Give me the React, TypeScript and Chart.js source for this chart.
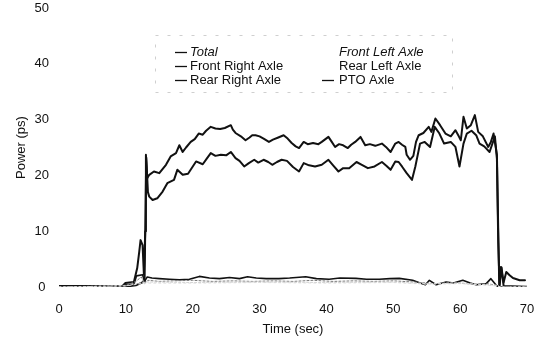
import React, { useEffect, useRef } from "react";
import { Chart, registerables } from "chart.js";

Chart.register(...registerables);

// ---- data (time in sec, power in ps) ----
const totalPower: [number, number][] = [
  [0, 0.2], [5, 0.2], [9.5, 0.2], [9.9, 0.7], [11.2, 0.9], [11.7, 3.4], [12.0, 6.3], [12.2, 8.4],
  [12.5, 7.5], [12.7, 2.2], [12.9, 10], [13.0, 23.7], [13.2, 19.5], [13.5, 20.1], [14.2, 20.7],
  [15.0, 20.4], [16.0, 21.9], [16.7, 23.4], [17.5, 24.0], [18.0, 25.4], [18.5, 24.2], [19.0, 25.0],
  [19.7, 26.0], [20.3, 26.5], [20.9, 27.5], [21.5, 27.3], [22.0, 28.0], [22.7, 28.7], [23.4, 28.4],
  [24.1, 28.3], [24.8, 28.5], [25.7, 29.0], [26.0, 28.2], [26.4, 27.6], [27.2, 27.0], [27.9, 26.3],
  [28.5, 26.8], [28.9, 27.2], [29.4, 27.2], [30.0, 27.0], [30.6, 26.6], [31.4, 26.0], [32.0, 26.4],
  [32.8, 26.8], [33.6, 27.2], [34.2, 26.6], [34.8, 25.8], [35.4, 25.2], [35.9, 24.9], [36.6, 26.0],
  [37.2, 25.6], [38.0, 25.8], [38.8, 25.6], [39.3, 26.0], [40.3, 26.9], [40.8, 26.0], [41.3, 25.1],
  [41.9, 25.6], [42.5, 25.4], [43.2, 24.9], [43.7, 25.5], [44.3, 26.0], [45.1, 26.9], [45.8, 25.4],
  [46.5, 25.6], [47.3, 25.3], [48.3, 25.7], [48.9, 25.1], [49.6, 24.2], [50.3, 25.7], [50.8, 26.0],
  [51.3, 25.5], [51.8, 25.1], [52.0, 23.7], [52.5, 22.8], [53.0, 23.5], [53.4, 26.0], [53.8, 27.2],
  [54.5, 27.6], [55.3, 28.7], [55.7, 27.8], [56.3, 30.2], [57.0, 29.0], [57.8, 27.5], [58.6, 27.0],
  [59.3, 28.1], [59.8, 27.0], [60.1, 26.3], [60.5, 30.5], [61.0, 28.4], [61.6, 29.0], [62.2, 30.8],
  [62.7, 27.8], [63.4, 27.0], [64.2, 25.1], [64.6, 26.0], [65.0, 27.5], [65.5, 23.7], [65.7, 10],
  [65.85, 0.3], [66.1, 3.6], [66.5, 0.8], [66.9, 2.7], [67.4, 2.1], [67.9, 1.6], [68.9, 1.2], [69.7, 1.2],
];

const ptoAxle: [number, number][] = [
  [0, 0], [9.5, 0], [11.5, 0.3], [12.8, 1], [12.95, 15], [13.05, 23.2], [13.3, 17], [13.5, 16.2],
  [14.0, 15.6], [14.7, 15.9], [15.5, 17.1], [16.2, 18.6], [17.2, 19.2], [17.7, 21.0], [18.5, 20.1],
  [19.3, 20.3], [20.5, 22.5], [21.5, 22.0], [22.1, 23.0], [22.7, 24.0], [23.4, 23.5], [24.2, 23.7],
  [25.0, 23.6], [25.7, 24.2], [26.4, 23.1], [27.0, 22.6], [27.7, 21.6], [28.4, 22.2], [29.2, 22.8],
  [29.8, 22.3], [30.6, 22.8], [31.3, 22.4], [31.9, 21.9], [32.6, 22.4], [33.3, 22.8], [34.1, 22.6],
  [35.0, 21.5], [35.9, 20.7], [36.6, 22.2], [37.4, 21.8], [38.3, 21.6], [39.3, 21.9], [40.3, 22.8],
  [41.0, 21.8], [41.8, 20.7], [42.5, 21.3], [43.4, 21.3], [44.5, 22.4], [45.3, 21.9], [46.2, 21.3],
  [47.2, 21.6], [48.3, 22.4], [49.0, 21.7], [49.6, 21.0], [50.3, 22.5], [50.8, 22.4], [51.3, 21.6],
  [52.0, 20.4], [52.8, 19.2], [53.3, 21.6], [54.0, 25.7], [54.7, 26.0], [55.5, 25.1], [56.2, 28.7],
  [56.9, 27.5], [57.6, 25.7], [58.6, 26.0], [59.3, 25.1], [59.9, 21.6], [60.5, 25.7], [61.0, 27.5],
  [61.7, 28.0], [62.4, 27.2], [62.9, 25.7], [63.6, 25.2], [64.4, 24.2], [65.2, 27.0], [65.5, 23.0],
  [65.7, 8], [65.9, 0.2], [66.2, 3.5], [66.5, 0.2], [70, 0.05],
];

const frontRightAxle: [number, number][] = [
  [0, 0.1], [9.5, 0.1], [10, 0.4], [11.2, 0.5], [11.6, 2.0], [12.5, 2.2], [12.8, 1.0], [13.2, 1.8],
  [13.9, 1.6], [15, 1.5], [16.5, 1.4], [18, 1.3], [19.5, 1.4], [21, 1.9], [22.5, 1.6], [24, 1.5],
  [25.5, 1.7], [27, 1.5], [28.2, 1.85], [29.5, 1.6], [31, 1.5], [32.9, 1.5], [34.5, 1.6], [36.9, 1.85],
  [38.5, 1.5], [40.4, 1.4], [42, 1.6], [44.4, 1.55], [46, 1.4], [47.9, 1.4], [49.5, 1.5], [50.9, 1.55],
  [52.9, 1.2], [54, 0.7], [54.8, 0.4], [55.4, 1.2], [56.4, 0.4], [57.9, 0.9], [59, 0.7], [60.4, 1.2],
  [61.5, 0.7], [62.4, 0.4], [63.9, 0.6], [64.6, 1.5], [65.4, 0.3], [65.8, 0], [70, 0],
];

const rearRightAxle: [number, number][] = [
  [0, 0], [10, 0.3], [11.5, 1.0], [12.3, 1.8], [12.8, 0.6], [13.3, 1.2], [15, 1.0], [17, 1.1],
  [20, 1.2], [23, 1.0], [26, 1.1], [29, 1.0], [32, 1.1], [35, 1.0], [38, 1.2], [41, 1.0], [44, 1.1],
  [47, 1.0], [50, 1.1], [53, 0.9], [56, 0.6], [59, 0.8], [62, 0.5], [64, 0.6], [65.5, 0.3], [66, 0], [70, 0],
];

const frontLeftAxle: [number, number][] = [
  [0, 0], [10, 0.2], [13, 0.9], [20, 0.8], [30, 0.9], [40, 0.8], [50, 0.9], [55, 0.6], [60, 0.7], [65.5, 0.3], [66, 0], [70, 0],
];

const rearLeftAxle: [number, number][] = [
  [0, 0], [10, 0.2], [13, 0.7], [20, 0.7], [30, 0.8], [40, 0.7], [50, 0.8], [55, 0.5], [60, 0.6], [65.5, 0.2], [66, 0], [70, 0],
];

const seriesLabels = ["Total", "Front Left Axle", "Front Right Axle", "Rear Left Axle", "Rear Right Axle", "PTO Axle"];
const xTickValues = [0, 10, 20, 30, 40, 50, 60, 70];
const yTickValues = [0, 10, 20, 30, 40, 50];
const xTitle = "Time (sec)";
const yTitle = "Power (ps)";

// legend layout: [label index, column, row, italic, has marker]
const legendLayout: [number, number, number, boolean, boolean][] = [
  [0, 0, 0, true, true],
  [2, 0, 1, false, true],
  [4, 0, 2, false, true],
  [1, 1, 0, true, false],
  [3, 1, 1, false, false],
  [5, 1, 2, false, true],
];

const FONT = '"Liberation Sans", Arial, sans-serif';

const legendPlugin = {
  id: "scanLegend",
  afterDraw(chart: any) {
    const ctx = chart.ctx as CanvasRenderingContext2D;
    ctx.save();
    ctx.strokeStyle = "#cfcfcf";
    ctx.lineWidth = 1;
    ctx.setLineDash([3, 9]);
    ctx.strokeRect(155.5, 35.5, 297, 57);
    ctx.setLineDash([]);
    const rowY = [52, 66, 80];
    ctx.fillStyle = "#111";
    ctx.strokeStyle = "#111";
    ctx.textBaseline = "middle";
    ctx.textAlign = "left";
    legendLayout.forEach(([idx, col, row, italic, marker]) => {
      const y = rowY[row];
      ctx.font = `${italic ? "italic " : ""}13px ${FONT}`;
      const textX = col === 0 ? 190 : 339;
      if (marker) {
        const x0 = col === 0 ? 175 : 322;
        ctx.lineWidth = 1.3;
        ctx.beginPath();
        ctx.moveTo(x0, y + 0.5);
        ctx.lineTo(x0 + 12, y + 0.5);
        ctx.stroke();
      }
      ctx.fillText(seriesLabels[idx], textX, y);
    });
    ctx.restore();
  },
};

export default function App() {
  const canvasRef = useRef<HTMLCanvasElement | null>(null);

  useEffect(() => {
    if (!canvasRef.current) return;
    const toXY = (arr: [number, number][]) => arr.map(([x, y]) => ({ x, y }));
    const chart = new Chart(canvasRef.current, {
      type: "line",
      data: {
        datasets: [
          { label: seriesLabels[1], data: toXY(frontLeftAxle), borderColor: "#d4d4d4", borderWidth: 1, borderDash: [2, 2], pointRadius: 0 },
          { label: seriesLabels[3], data: toXY(rearLeftAxle), borderColor: "#dcdcdc", borderWidth: 1, borderDash: [2, 3], pointRadius: 0 },
          { label: seriesLabels[4], data: toXY(rearRightAxle), borderColor: "#777", borderWidth: 1, borderDash: [2, 2], pointRadius: 0 },
          { label: seriesLabels[2], data: toXY(frontRightAxle), borderColor: "#111", borderWidth: 1.6, pointRadius: 0 },
          { label: seriesLabels[5], data: toXY(ptoAxle), borderColor: "#111", borderWidth: 2, pointRadius: 0 },
          { label: seriesLabels[0], data: toXY(totalPower), borderColor: "#111", borderWidth: 2, pointRadius: 0 },
        ],
      },
      options: {
        animation: false,
        responsive: false,
        devicePixelRatio: 1,
        parsing: false as any,
        layout: { padding: { top: 0, right: 0, left: 0, bottom: 0 } },
        elements: { line: { tension: 0, borderJoinStyle: "round", borderCapStyle: "round" } },
        plugins: { legend: { display: false }, tooltip: { enabled: false } },
        scales: {
          x: {
            type: "linear",
            min: 0,
            max: 70,
            afterBuildTicks: (s: any) => { s.ticks = xTickValues.map((v) => ({ value: v })); },
            afterFit: (s: any) => {
              s.height = 53;
              s.paddingLeft = 0;
              s.paddingRight = 12;
            },
            grid: { display: false, drawTicks: false },
            border: { display: false },
            ticks: { padding: 15, color: "#111", font: { family: FONT, size: 13 }, maxRotation: 0 },
            title: { display: true, text: xTitle, color: "#111", font: { family: FONT, size: 13 }, padding: { top: 0, bottom: 3 } },
          },
          y: {
            type: "linear",
            min: 0,
            max: 50,
            afterBuildTicks: (s: any) => { s.ticks = yTickValues.map((v) => ({ value: v })); },
            afterFit: (s: any) => {
              s.width = 59;
              s.paddingTop = 8;
              s.paddingBottom = 0;
            },
            grid: { display: false, drawTicks: false },
            border: { display: false },
            ticks: { padding: 10, crossAlign: "center", color: "#111", font: { family: FONT, size: 13 } },
            title: { display: true, text: yTitle, color: "#111", font: { family: FONT, size: 13 }, padding: { top: 14, bottom: 0 } },
          },
        },
      },
      plugins: [legendPlugin],
    } as any);
    return () => chart.destroy();
  }, []);

  return (
    <div style={{ position: "fixed", left: 0, top: 0, width: 539, height: 340, background: "#fff" }}>
      <canvas ref={canvasRef} width={539} height={340} style={{ width: 539, height: 340, display: "block" }} />
    </div>
  );
}
